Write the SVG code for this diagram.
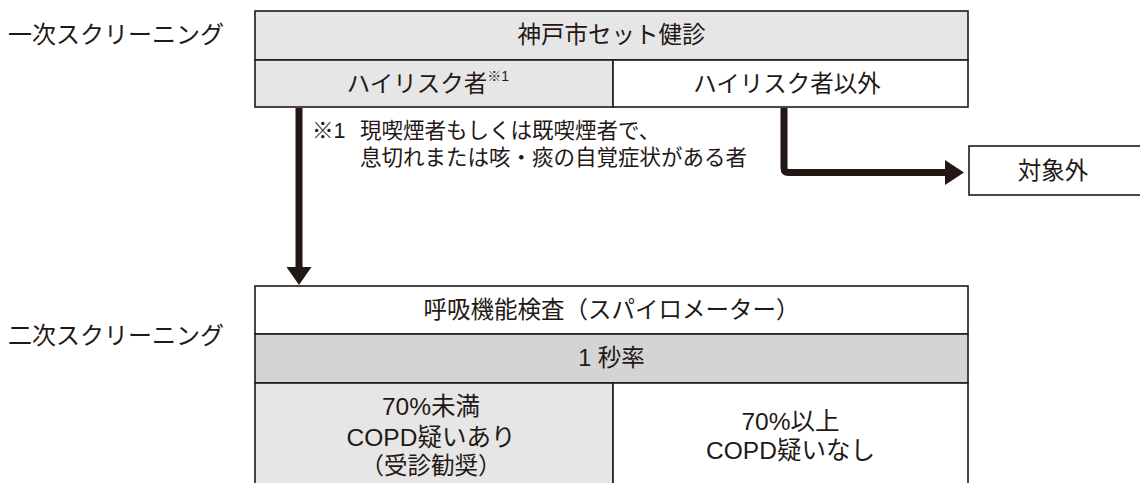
<svg xmlns="http://www.w3.org/2000/svg" width="1140" height="483" viewBox="0 0 1140 483">
<defs>
<style>
.box{stroke:#231815;stroke-width:1.6;}
.g1{fill:#e6e6e6;}
.g2{fill:#d4d4d4;}
.w{fill:#ffffff;}
.t{font-family:"Liberation Sans","Noto Sans CJK JP",sans-serif;font-size:23.5px;fill:#231815;dominant-baseline:central;}
.c{text-anchor:middle;}
.lab{font-size:24px;}
.fn{font-size:21.5px;}
.sup{font-size:14px;}
.lat{font-size:24.5px;}
.line{fill:none;stroke:#231815;stroke-width:7;}
.head{fill:#231815;}
</style>
</defs>
<rect width="1140" height="483" fill="#ffffff"/>
<g id="label-primary"><text class="t lab" x="8" y="34">一次スクリーニング</text></g>
<g id="label-secondary"><text class="t lab" x="8" y="335">二次スクリーニング</text></g>
<g id="kobe-checkup">
<rect class="box g1" x="255" y="11" width="713" height="49"/>
<text class="t c" x="611.5" y="35">神戸市セット健診</text>
</g>
<g id="high-risk">
<rect class="box g1" x="255" y="60" width="358" height="47"/>
<text class="t c" x="428" y="84">ハイリスク者<tspan class="sup" dy="-8">※1</tspan></text>
</g>
<g id="non-high-risk">
<rect class="box w" x="613" y="60" width="355" height="47"/>
<text class="t c" x="787" y="84">ハイリスク者以外</text>
</g>
<g id="footnote">
<text class="t fn" x="312" y="131">※1<tspan x="360">現喫煙者もしくは既喫煙者で、</tspan></text>
<text class="t fn" x="360" y="158">息切れまたは咳・痰の自覚症状がある者</text>
</g>
<g id="excluded">
<rect class="box w" x="969" y="146" width="175" height="49"/>
<text class="t c" x="1053" y="171">対象外</text>
</g>
<g id="spirometry">
<rect class="box w" x="255" y="286" width="713" height="48"/>
<text class="t c" x="611.5" y="310">呼吸機能検査（スパイロメーター）</text>
</g>
<g id="fev1">
<rect class="box g2" x="255" y="334" width="713" height="49"/>
<text class="t c" x="611.5" y="358">1 秒率</text>
</g>
<g id="below70">
<rect class="box g1" x="255" y="383" width="358" height="110"/>
<text class="t c lat" x="431" y="406">70%未満</text>
<text class="t c lat" x="431" y="437">COPD疑いあり</text>
<text class="t c" x="431" y="466">（受診勧奨）</text>
</g>
<g id="above70">
<rect class="box w" x="613" y="383" width="355" height="110"/>
<text class="t c lat" x="790.5" y="421">70%以上</text>
<text class="t c lat" x="790.5" y="450">COPD疑いなし</text>
</g>
<g id="connectors">
<path class="line" d="M299 108 V268"/>
<path class="head" d="M286.5 267 H311.5 L299 285 Z"/>
<path class="line" d="M784 108 V168 Q784 172.5 788.5 172.5 H946"/>
<path class="head" d="M945 160 V185 L964 172.5 Z"/>
</g>
</svg>
